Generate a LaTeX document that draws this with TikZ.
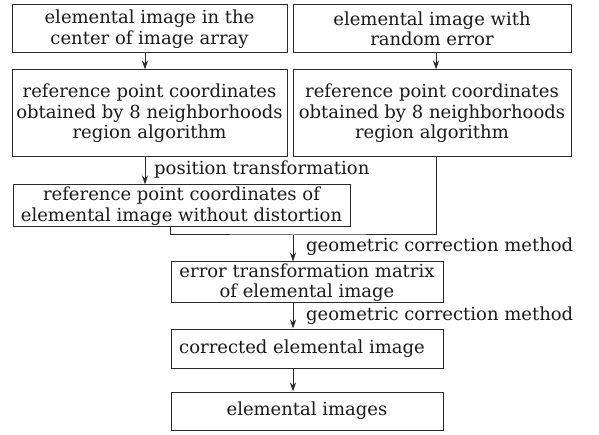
\documentclass[tikz,border=0pt]{standalone}
\usepackage{fontspec}
\setmainfont{DejaVu Serif}
\usetikzlibrary{arrows.meta}
\definecolor{ink}{HTML}{1A1A1A}
\definecolor{edge}{HTML}{2A2A2A}
\begin{document}
\begin{tikzpicture}[x=1pt,y=-1pt,
  box/.style={draw=edge, line width=1pt, text=ink, align=center, inner sep=0pt,
    font=\fontsize{18}{20.5}\selectfont},
  arr/.style={draw=edge, line width=1pt, -{Stealth[length=9pt,width=6pt]}},
  lin/.style={draw=edge, line width=1pt},
  lab/.style={text=ink, anchor=west, inner sep=0pt, font=\fontsize{18}{20.5}\selectfont}]
\useasboundingbox (0,0) rectangle (599,435);
\node[box, minimum width=275pt, minimum height=48pt] (b1) at (149.5,29) {elemental image in the\\center of image array};
\node[box, minimum width=278pt, minimum height=48pt] (b2) at (432,29) {elemental image with\\random error};
\node[box, minimum width=275pt, minimum height=87pt] (b3) at (149.5,113.5) {reference point coordinates\\obtained by 8 neighborhoods\\region algorithm};
\node[box, minimum width=278pt, minimum height=87pt] (b4) at (432,113.5) {reference point coordinates\\obtained by 8 neighborhoods\\region algorithm};
\node[box, minimum width=337pt, minimum height=42pt] (b5) at (181.5,206) {reference point coordinates of\\elemental image without distortion};
\node[box, minimum width=272pt, minimum height=41pt] (b6) at (307,282.5) {error transformation matrix\\of elemental image};
\node[box, minimum width=272pt, minimum height=39pt] (b7) at (307,348.5) {\hspace*{-10pt}corrected elemental image};
\node[box, minimum width=272pt, minimum height=38pt] (b8) at (307,411) {elemental images};
\coordinate (xl) at (145,0);
\coordinate (xr) at (436,0);
\coordinate (xm) at (293,0);
\coordinate (xs) at (170,0);
\coordinate (j) at (293,235);
\draw[arr] (b1.south -| xl) -- (b3.north -| xl);
\draw[arr] (b2.south -| xr) -- (b4.north -| xr);
\draw[arr] (b3.south -| xl) -- (b5.north -| xl);
\draw[lin] (b5.south -| xs) |- (j) -| (b4.south -| xr);
\draw[arr] (j) -- (b6.north -| xm);
\draw[arr] (b6.south -| xm) -- (b7.north -| xm);
\draw[arr] (b7.south -| xm) -- (b8.north -| xm);
\node[lab] (l1) at (154,170) {position transformation};
\node[lab] (l2) at (306,247) {geometric correction method};
\node[lab] (l3) at (306,316) {geometric correction method};
\end{tikzpicture}
\end{document}
